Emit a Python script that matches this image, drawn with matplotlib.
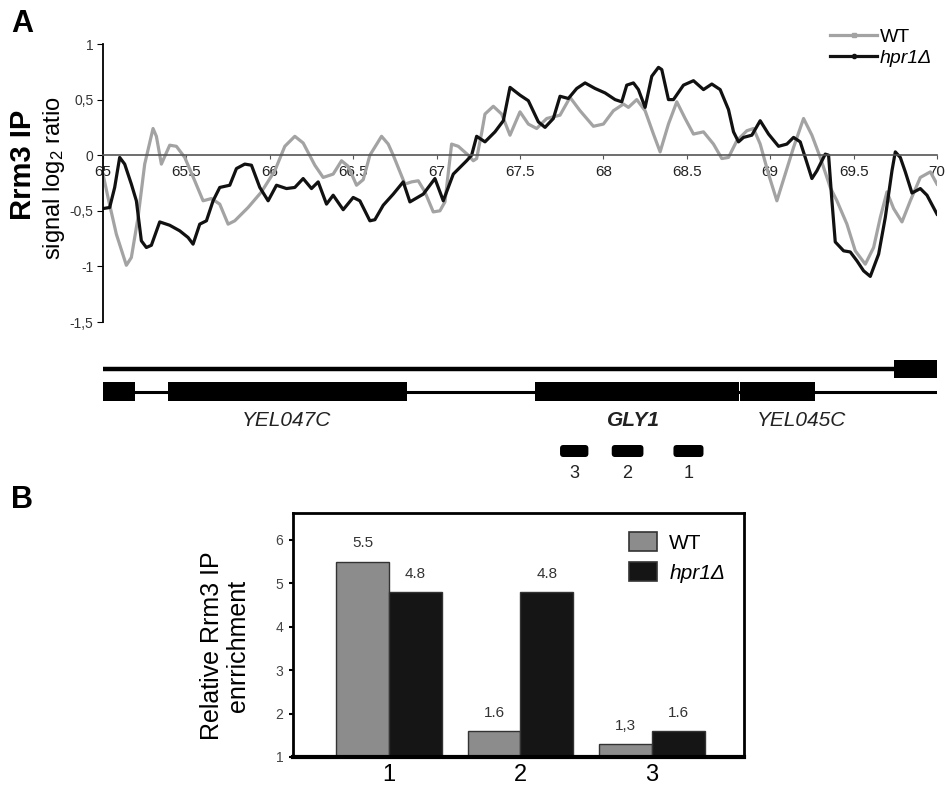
import numpy as np
import matplotlib
matplotlib.use('Agg')
import matplotlib.pyplot as plt
from matplotlib.patches import Rectangle, FancyBboxPatch, Patch
from matplotlib.lines import Line2D

plt.rcParams['font.family'] = ['Liberation Sans', 'DejaVu Sans']
plt.rcParams['mathtext.fontset'] = 'custom'
plt.rcParams['mathtext.rm'] = 'Liberation Sans'
plt.rcParams['mathtext.it'] = 'Liberation Sans:italic'

# ---- panel A: Rrm3 ChIP-chip profile (kb on chr V) ----
wt_pos = [65.00, 65.03, 65.08, 65.14, 65.17, 65.21, 65.25, 65.30, 65.32, 65.35, 65.40, 65.44,
          65.49, 65.55, 65.60, 65.65, 65.70, 65.75, 65.79, 65.87, 65.95, 66.03, 66.09, 66.15,
          66.20, 66.27, 66.32, 66.38, 66.43, 66.47, 66.52, 66.56, 66.60, 66.67, 66.71, 66.74,
          66.81, 66.85, 66.89, 66.93, 66.98, 67.02, 67.05, 67.09, 67.13, 67.19, 67.22, 67.24,
          67.27, 67.29, 67.34, 67.39, 67.44, 67.50, 67.55, 67.60, 67.66, 67.74, 67.80, 67.86,
          67.94, 68.00, 68.06, 68.12, 68.15, 68.20, 68.25, 68.30, 68.34, 68.39, 68.44, 68.49,
          68.54, 68.60, 68.66, 68.71, 68.75, 68.80, 68.86, 68.90, 68.94, 68.99, 69.04, 69.09,
          69.14, 69.20, 69.25, 69.30, 69.36, 69.40, 69.46, 69.51, 69.57, 69.62, 69.66, 69.70,
          69.74, 69.79, 69.84, 69.90, 69.96, 70.00]
wt_ratio = [-0.17, -0.38, -0.71, -0.99, -0.92, -0.56, -0.08, 0.24, 0.17, -0.08, 0.09, 0.08,
            -0.02, -0.23, -0.41, -0.39, -0.44, -0.62, -0.59, -0.47, -0.33, -0.14, 0.08, 0.17,
            0.11, -0.09, -0.20, -0.17, -0.05, -0.10, -0.27, -0.22, 0.00, 0.17, 0.10, 0.00,
            -0.26, -0.24, -0.23, -0.33, -0.51, -0.50, -0.42, 0.10, 0.08, 0.00, -0.05, -0.03,
            0.20, 0.37, 0.44, 0.37, 0.18, 0.39, 0.28, 0.24, 0.33, 0.36, 0.52, 0.40,
            0.26, 0.28, 0.40, 0.46, 0.43, 0.50, 0.40, 0.19, 0.03, 0.28, 0.48, 0.33,
            0.19, 0.21, 0.10, -0.03, -0.02, 0.13, 0.22, 0.24, 0.10, -0.17, -0.41, -0.17,
            0.07, 0.33, 0.18, -0.02, -0.29, -0.41, -0.62, -0.86, -0.98, -0.83, -0.56, -0.33,
            -0.48, -0.60, -0.41, -0.20, -0.15, -0.26]

hpr_pos = [65.00, 65.04, 65.07, 65.10, 65.13, 65.17, 65.20, 65.23, 65.26, 65.29, 65.34, 65.40,
           65.46, 65.51, 65.54, 65.58, 65.62, 65.66, 65.70, 65.76, 65.80, 65.85, 65.89, 65.94,
           65.99, 66.04, 66.10, 66.15, 66.20, 66.25, 66.29, 66.34, 66.38, 66.44, 66.50, 66.54,
           66.60, 66.63, 66.68, 66.74, 66.80, 66.84, 66.92, 66.99, 67.04, 67.10, 67.18, 67.21,
           67.24, 67.29, 67.35, 67.40, 67.44, 67.50, 67.55, 67.61, 67.65, 67.70, 67.74, 67.79,
           67.84, 67.89, 67.95, 68.01, 68.07, 68.11, 68.14, 68.18, 68.21, 68.25, 68.29, 68.33,
           68.35, 68.39, 68.42, 68.48, 68.54, 68.60, 68.65, 68.70, 68.75, 68.78, 68.81, 68.84,
           68.89, 68.94, 68.99, 69.05, 69.10, 69.14, 69.18, 69.21, 69.25, 69.28, 69.33, 69.35,
           69.37, 69.39, 69.44, 69.48, 69.52, 69.56, 69.60, 69.65, 69.69, 69.73, 69.75, 69.78,
           69.81, 69.85, 69.90, 69.94, 70.00]
hpr_ratio = [-0.48, -0.47, -0.29, -0.02, -0.08, -0.26, -0.41, -0.77, -0.83, -0.81, -0.60, -0.63,
             -0.68, -0.74, -0.80, -0.62, -0.59, -0.41, -0.29, -0.27, -0.12, -0.08, -0.09, -0.29,
             -0.41, -0.27, -0.30, -0.29, -0.21, -0.30, -0.24, -0.44, -0.36, -0.49, -0.38, -0.41,
             -0.59, -0.58, -0.45, -0.35, -0.24, -0.42, -0.35, -0.21, -0.41, -0.17, -0.05, 0.00,
             0.17, 0.12, 0.21, 0.31, 0.61, 0.54, 0.49, 0.30, 0.25, 0.33, 0.53, 0.51,
             0.60, 0.65, 0.60, 0.56, 0.50, 0.48, 0.63, 0.65, 0.59, 0.43, 0.71, 0.79,
             0.77, 0.50, 0.50, 0.63, 0.67, 0.59, 0.64, 0.59, 0.41, 0.21, 0.12, 0.16,
             0.18, 0.31, 0.19, 0.08, 0.10, 0.16, 0.12, -0.02, -0.21, -0.14, 0.01, 0.00,
             -0.41, -0.78, -0.86, -0.87, -0.95, -1.04, -1.09, -0.89, -0.56, -0.14, 0.03, -0.02,
             -0.15, -0.34, -0.30, -0.36, -0.53]

# gene map (kb)
region = [65.0, 70.0]
top_gene_start = [69.74]
top_gene_end = [70.0]
bot_gene_start = [65.0, 65.39, 67.59, 68.82]
bot_gene_end = [65.19, 66.82, 68.81, 69.27]
gene_labels = ['YEL047C', 'GLY1', 'YEL045C']
gene_label_pos = [66.10, 68.18, 69.19]
amp_names = ['1', '2', '3']
amp_start = [68.42, 68.05, 67.74]
amp_end = [68.60, 68.24, 67.91]

# ---- panel B: qPCR ----
amplicons = ['1', '2', '3']
wt_enrich = [5.5, 1.6, 1.3]
hpr_enrich = [4.8, 4.8, 1.6]
wt_text = ['5.5', '1.6', '1,3']
hpr_text = ['4.8', '4.8', '1.6']

W, H = 948, 787
fig = plt.figure(figsize=(W / 100, H / 100), dpi=100)

wt_col = '#a3a3a3'
hpr_col = '#111111'

# panel A
axA = fig.add_axes([103 / W, 1 - 322 / H, 834 / W, 278 / H])
axA.plot(wt_pos, wt_ratio, color=wt_col, lw=2.3)
axA.plot(hpr_pos, hpr_ratio, color=hpr_col, lw=2.3)
axA.set_xlim(65, 70)
axA.set_ylim(-1.5, 1)
for s in ['top', 'right']:
    axA.spines[s].set_visible(False)
axA.spines['bottom'].set_position(('data', 0))
axA.spines['bottom'].set_color('#555555')
axA.spines['bottom'].set_linewidth(1.2)
axA.spines['left'].set_linewidth(1.3)
xt = np.arange(65, 70.01, 0.5)
axA.set_xticks(xt)
axA.set_xticklabels(['%g' % v for v in xt])
yt = [-1.5, -1, -0.5, 0, 0.5, 1]
axA.set_yticks(yt)
axA.set_yticklabels([('%g' % v).replace('.', ',') for v in yt])
axA.tick_params(axis='x', length=3, labelsize=11, pad=4, colors='#555555', labelcolor='#222222')
axA.tick_params(axis='y', length=4, labelsize=10, pad=3, labelcolor='#333333')

handles = [Line2D([], [], color=wt_col, lw=2.3, marker='s', ms=3),
           Line2D([], [], color=hpr_col, lw=2.3, marker='o', ms=3)]
legA = axA.legend(handles, ['WT', 'hpr1Δ'], loc='upper right',
                  bbox_to_anchor=(932 / W, 1 - 28 / H), bbox_transform=fig.transFigure,
                  frameon=False, fontsize=14, handlelength=2.4, handletextpad=0.15,
                  labelspacing=0.2, borderpad=0, borderaxespad=0)
legA.get_texts()[1].set_style('italic')

fig.text(23 / W, 1 - 165 / H, 'Rrm3 IP', rotation=90, fontsize=21, fontweight='bold',
         ha='center', va='center')
fig.text(54 / W, 1 - 178 / H, 'signal log$_2$ ratio', rotation=90, fontsize=17,
         ha='center', va='center')
fig.text(22 / W, 1 - 24 / H, 'A', fontsize=22, fontweight='bold', ha='center', va='center')
fig.text(22 / W, 1 - 500 / H, 'B', fontsize=22, fontweight='bold', ha='center', va='center')

# gene map (y in pixel rows)
axG = fig.add_axes([103 / W, 1 - 485 / H, 834 / W, 135 / H])
axG.set_xlim(65, 70)
axG.set_ylim(485, 350)
axG.axis('off')
axG.plot(region, [369, 369], color='black', lw=3.2, solid_capstyle='butt')
axG.plot(region, [392, 392], color='black', lw=2.2, solid_capstyle='butt')
for s, e in zip(top_gene_start, top_gene_end):
    axG.add_patch(Rectangle((s, 360), e - s, 18, color='black', lw=0))
for s, e in zip(bot_gene_start, bot_gene_end):
    axG.add_patch(Rectangle((s, 382), e - s, 19, color='black', lw=0))
for name, x in zip(gene_labels, gene_label_pos):
    bold = 'bold' if name == 'GLY1' else 'normal'
    axG.text(x, 420, name, fontsize=15, style='italic', fontweight=bold,
             ha='center', va='center', color='#222222')
for name, s, e in zip(amp_names, amp_start, amp_end):
    axG.add_patch(FancyBboxPatch((s, 445), e - s, 12, boxstyle='round,pad=0,rounding_size=0.02',
                                 mutation_aspect=166.8, color='black', lw=0))
    axG.text((s + e) / 2, 474, name, fontsize=13, ha='center', va='center', color='#222222')

# panel B
axB = fig.add_axes([293 / W, 1 - 757 / H, 451 / W, 244 / H])
x = np.arange(1, len(amplicons) + 1)
w = 0.4
axB.bar(x - w / 2, wt_enrich, w, color='#8c8c8c', edgecolor='#333333', lw=1, zorder=2)
axB.bar(x + w / 2, hpr_enrich, w, color='#151515', edgecolor='#333333', lw=1, zorder=2)
for xi, v, t in zip(x - w / 2, wt_enrich, wt_text):
    axB.text(xi, v + 0.42, t, ha='center', va='center', fontsize=11, color='#333333')
for xi, v, t in zip(x + w / 2, hpr_enrich, hpr_text):
    axB.text(xi, v + 0.42, t, ha='center', va='center', fontsize=11, color='#333333')
axB.set_xlim(0.27, 3.70)
axB.set_ylim(1, 6.62)
axB.set_xticks(x)
axB.set_xticklabels(amplicons)
axB.set_yticks(range(1, 7))
axB.tick_params(axis='x', length=0, labelsize=17, pad=5)
axB.tick_params(axis='y', length=3, width=1.5, labelsize=10, labelcolor='#444444', pad=4)
for s in ['top', 'right', 'left']:
    axB.spines[s].set_linewidth(2)
axB.spines['bottom'].set_linewidth(3)

legB = axB.legend([Patch(facecolor='#8c8c8c', edgecolor='#333333', lw=1.2),
                   Patch(facecolor='#151515', edgecolor='#333333', lw=1.2)],
                  ['WT', 'hpr1Δ'], loc='upper right', frameon=False, fontsize=15,
                  handlelength=1.35, handleheight=1.05, handletextpad=0.6,
                  labelspacing=0.45, borderaxespad=0.5)
legB.get_texts()[1].set_style('italic')

fig.text(225 / W, 1 - 646 / H, 'Relative Rrm3 IP\nenrrichment', rotation=90, fontsize=18,
         ha='center', va='center', multialignment='center', linespacing=1.15)

fig.savefig('out.png', dpi=100)
